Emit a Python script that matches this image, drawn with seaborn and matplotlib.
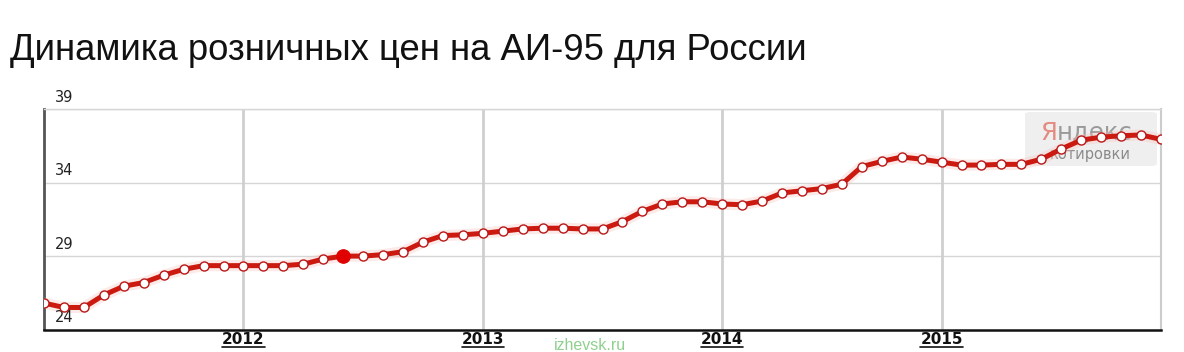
import matplotlib
matplotlib.use("Agg")
import matplotlib.pyplot as plt
import matplotlib.transforms as mtransforms
import seaborn as sns
import pandas as pd
from matplotlib.patches import FancyBboxPatch
from matplotlib.lines import Line2D

# ---------------- data ----------------
title_text = "Динамика розничных цен на АИ-95 для России"
prices = [25.8, 25.5, 25.5, 26.35, 26.95, 27.2, 27.7, 28.1, 28.35, 28.35, 28.35,
          28.35, 28.35, 28.45, 28.8, 29.0, 29.0, 29.1, 29.3, 29.95, 30.4, 30.45, 30.55,
          30.7, 30.85, 30.9, 30.9, 30.85, 30.85, 31.35, 32.05, 32.55, 32.7, 32.7, 32.55,
          32.5, 32.75, 33.3, 33.45, 33.6, 33.9, 35.1, 35.45, 35.75, 35.6, 35.4,
          35.2, 35.2, 35.25, 35.25, 35.6, 36.3, 36.9, 37.1, 37.2, 37.25, 36.95]
month_index = list(range(len(prices)))
year_labels = ["2012", "2013", "2014", "2015"]
year_tick_index = [10, 22, 34, 45]
y_ticks = [24, 29, 34, 39]
highlight_index = 15
watermark = "izhevsk.ru"
logo_red, logo_gray, logo_sub = "Я", "ндекс", "котировки"

df = pd.DataFrame({"month": month_index, "price": prices})

# ---------------- style ----------------
sns.set_theme(style="white")
plt.rcParams["font.family"] = ["Liberation Sans", "DejaVu Sans"]

W, H = 1184, 352
fig = plt.figure(figsize=(W / 100, H / 100), dpi=100)
fig.patch.set_facecolor("white")
ax = fig.add_axes([44 / W, 1 - 329.5 / H, (1161 - 44) / W, (329.5 - 109.3) / H])
ax.set_facecolor("white")

# Yandex logo box (inside axes, behind the line)
box = FancyBboxPatch((1025 / W, 1 - 166 / H), 132 / W, 54 / H,
                     boxstyle="round,pad=0,rounding_size=0.006",
                     transform=fig.transFigure, facecolor="#efefef",
                     edgecolor="none", zorder=1.5, clip_on=False)
ax.add_patch(box)
t1 = ax.text(1040 / W, 1 - 140 / H, logo_red, ha="left", va="baseline",
             fontsize=17.5, color="#e58a80", zorder=2, transform=fig.transFigure,
             family="DejaVu Sans", clip_on=False)
ax.annotate(logo_gray, xy=(1, 0), xycoords=t1, ha="left", va="bottom",
            fontsize=17.5, color="#9a9a9a", family="DejaVu Sans",
            annotation_clip=False, zorder=2)
ax.text(1090 / W, 1 - 159 / H, logo_sub, ha="center", va="baseline",
        fontsize=10.5, color="#8a8a8a", family="DejaVu Sans", zorder=2,
        transform=fig.transFigure, clip_on=False)

# halo + main line
sns.lineplot(data=df, x="month", y="price", ax=ax, color="#f6c4bc",
             linewidth=8, alpha=0.35, zorder=3, legend=False)
sns.lineplot(data=df, x="month", y="price", ax=ax, color="#cc1a10",
             linewidth=3.6, marker="o", markersize=6.5,
             markerfacecolor="white", markeredgecolor="#b81818",
             markeredgewidth=1.0, zorder=4, legend=False)
hl = df.iloc[[highlight_index]]
sns.scatterplot(data=hl, x="month", y="price", ax=ax, color="#e00000",
                s=95, edgecolor="#e00000", zorder=5, legend=False)

ax.set_xlim(0, len(prices) - 1)
ax.set_ylim(y_ticks[0], y_ticks[-1])
ax.set_xlabel("")
ax.set_ylabel("")

# grid
ax.set_yticks(y_ticks)
ax.set_yticklabels([])
for v in y_ticks[1:]:
    ax.axhline(v, color="#d6d6d6", lw=1.0, zorder=1)
ax.set_xticks(year_tick_index)
ax.set_xticklabels(year_labels, fontweight="bold", fontsize=11,
                   family="DejaVu Sans", color="#111111")
for xi in year_tick_index:
    ax.axvline(xi, color="#cfcfcf", lw=2.0, zorder=1)
ax.tick_params(axis="both", length=0, pad=2)
ax.grid(False)

# y labels inside plot, above grid lines
trans = mtransforms.blended_transform_factory(ax.transAxes, ax.transData)
for v in y_ticks:
    ax.text(11 / 1117, v + 0.3, str(v), transform=trans, ha="left",
            va="bottom", fontsize=10.5, family="DejaVu Sans", color="#222222",
            clip_on=False)

# spines
for s in ax.spines.values():
    s.set_visible(True)
ax.spines["left"].set_color("#555555")
ax.spines["left"].set_linewidth(2.0)
ax.spines["bottom"].set_color("#111111")
ax.spines["bottom"].set_linewidth(1.8)
ax.spines["top"].set_color("#d6d6d6")
ax.spines["top"].set_linewidth(1.0)
ax.spines["right"].set_color("#cccccc")
ax.spines["right"].set_linewidth(1.5)

# title
fig.text(10 / W, 1 - 50 / H, title_text, ha="left", va="center",
         fontsize=26.3, color="#111111")

# watermark
fig.text(590 / W, 1 - 345 / H, watermark, ha="center", va="center",
         fontsize=11.5, color="#8fd08f")

# underline year labels
fig.canvas.draw()
r = fig.canvas.get_renderer()
for lab in ax.get_xticklabels():
    bb = lab.get_window_extent(r)
    y = bb.y0 + 0.5
    fig.add_artist(Line2D([bb.x0 / W, bb.x1 / W], [y / H, y / H],
                          transform=fig.transFigure, color="#111111", lw=1.2))

fig.savefig("out.png", dpi=100, facecolor="white")
